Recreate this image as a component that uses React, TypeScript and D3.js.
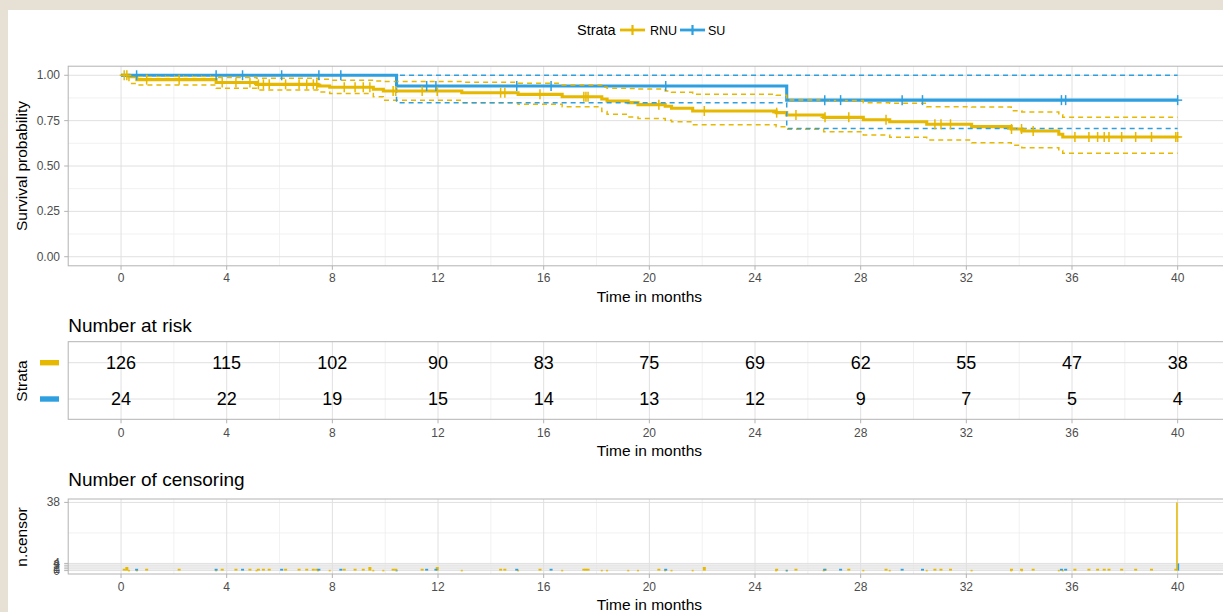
import React from 'react';
import * as d3 from 'd3';

// ---------- data ----------
const strata = ['RNU', 'SU'];
const strataColors = ['#E7B800', '#2E9FDF'];

const xTicks = [0, 4, 8, 12, 16, 20, 24, 28, 32, 36, 40];
const xMinor = [2, 6, 10, 14, 18, 22, 26, 30, 34, 38];
const yTicks = [0, 0.25, 0.5, 0.75, 1];
const yTickLabels = ['0.00', '0.25', '0.50', '0.75', '1.00'];
const yMinor = [0.125, 0.375, 0.625, 0.875];

// RNU Kaplan-Meier steps
const rnuTime = [0, 0.3, 0.6, 3.6, 5.13, 7.46, 7.9, 9.55, 9.93, 12.9, 15.03, 16.7, 18.2, 18.4, 19.2, 19.57, 20.6, 20.84, 21.64, 24.8, 25.2, 26.6, 28.1, 29.1, 30.5, 32.2, 33.7, 34.1, 35.5, 35.65, 40];
const rnuSurv = [1, 0.992, 0.976, 0.96, 0.95, 0.941, 0.934, 0.923, 0.913, 0.904, 0.895, 0.882, 0.869, 0.858, 0.849, 0.838, 0.829, 0.818, 0.803, 0.794, 0.781, 0.768, 0.755, 0.744, 0.73, 0.717, 0.704, 0.693, 0.675, 0.66, 0.66];
const rnuUpper = [1, 0.999, 0.994, 0.988, 0.983, 0.978, 0.973, 0.968, 0.965, 0.962, 0.956, 0.947, 0.934, 0.929, 0.927, 0.924, 0.914, 0.906, 0.895, 0.89, 0.864, 0.861, 0.849, 0.846, 0.827, 0.825, 0.805, 0.798, 0.782, 0.769, 0.769];
const rnuLower = [1, 0.955, 0.947, 0.928, 0.919, 0.908, 0.899, 0.882, 0.862, 0.849, 0.84, 0.827, 0.8, 0.785, 0.77, 0.762, 0.752, 0.744, 0.728, 0.716, 0.702, 0.689, 0.671, 0.658, 0.643, 0.628, 0.615, 0.601, 0.585, 0.57, 0.57];

// SU Kaplan-Meier steps
const suTime = [0, 10.43, 25.2, 40];
const suSurv = [1, 0.941, 0.863, 0.863];
const suUpper = [1, 1, 1, 1];
const suLower = [1, 0.849, 0.706, 0.706];

// censoring times and counts
const rnuCensorTime = [0.12, 0.22, 0.97, 2.2, 3.83, 4.35, 4.88, 5.2, 5.39, 5.61, 6.23, 6.74, 7.03, 7.28, 7.41, 8.45, 8.86, 9.17, 9.42, 10.3, 10.4, 11.4, 11.97, 14.37, 14.53, 15.86, 17.52, 17.6, 17.68, 20.36, 22.08, 24.82, 25.55, 26.65, 27.55, 28.96, 30.81, 31.04, 31.4, 33.71, 34.09, 34.53, 36.11, 36.64, 36.97, 37.22, 37.4, 37.88, 38.41, 39.01, 39.93, 40];
const rnuCensorN = [1, 2, 1, 1, 1, 1, 1, 1, 1, 1, 1, 1, 1, 1, 1, 1, 1, 1, 2, 1, 1, 1, 2, 1, 1, 1, 1, 1, 1, 1, 2, 1, 1, 1, 1, 1, 1, 1, 1, 1, 1, 1, 1, 1, 1, 1, 1, 1, 1, 1, 1, 38];
const suCensorTime = [0.59, 3.6, 4.6, 6.08, 7.49, 8.32, 11.57, 11.92, 14.98, 16.28, 20.62, 26.64, 27.24, 29.57, 30.34, 35.6, 35.76, 40];
const suCensorN = [1, 1, 1, 1, 1, 1, 1, 1, 1, 1, 1, 1, 1, 1, 1, 1, 1, 4];

// number at risk
const riskTimes = [0, 4, 8, 12, 16, 20, 24, 28, 32, 36, 40];
const riskRNU = [126, 115, 102, 90, 83, 75, 69, 62, 55, 47, 38];
const riskSU = [24, 22, 19, 15, 14, 13, 12, 9, 7, 5, 4];

const censorYTicks = [0, 1, 2, 3, 4, 38];
const censorYMinor = [0.5, 1.5, 2.5, 3.5, 21];

// ---------- styling ----------
const FONT = '"Liberation Sans", Arial, Helvetica, sans-serif';
const GRID_MAJOR = '#e0e0e0';
const GRID_MINOR = '#eeeeee';
const BORDER = '#b3b3b3';
const TICK_COL = '#4d4d4d';

type Curve = { time: number[]; surv: number[]; upper: number[]; lower: number[]; cTime: number[]; cN: number[] };
const curves: Curve[] = [
  { time: rnuTime, surv: rnuSurv, upper: rnuUpper, lower: rnuLower, cTime: rnuCensorTime, cN: rnuCensorN },
  { time: suTime, surv: suSurv, upper: suUpper, lower: suLower, cTime: suCensorTime, cN: suCensorN },
];

function stepValue(times: number[], vals: number[], t: number) {
  const i = d3.bisectRight(times, t) - 1;
  return vals[Math.max(0, i)];
}

function Panel(props: {
  x: d3.ScaleLinear<number, number>;
  top: number; bottom: number;
  hMajor: number[]; hMinor: number[];
  left: number; right: number;
}) {
  const { x, top, bottom, hMajor, hMinor, left, right } = props;
  return (
    <g>
      {hMinor.map((y, i) => (
        <line key={'hm' + i} x1={left} x2={right} y1={y} y2={y} stroke={GRID_MINOR} strokeWidth={0.8} />
      ))}
      {xMinor.map((t, i) => (
        <line key={'vm' + i} x1={x(t)} x2={x(t)} y1={top} y2={bottom} stroke={GRID_MINOR} strokeWidth={0.8} />
      ))}
      {hMajor.map((y, i) => (
        <line key={'hM' + i} x1={left} x2={right} y1={y} y2={y} stroke={GRID_MAJOR} strokeWidth={1} />
      ))}
      {xTicks.map((t, i) => (
        <line key={'vM' + i} x1={x(t)} x2={x(t)} y1={top} y2={bottom} stroke={GRID_MAJOR} strokeWidth={1} />
      ))}
      <rect x={left} y={top} width={right - left} height={bottom - top} fill="none" stroke={BORDER} strokeWidth={1} />
      {xTicks.map((t, i) => (
        <line key={'tk' + i} x1={x(t)} x2={x(t)} y1={bottom} y2={bottom + 4} stroke={BORDER} strokeWidth={1} />
      ))}
    </g>
  );
}

function XAxisLabels(props: { x: d3.ScaleLinear<number, number>; y: number; size: number }) {
  return (
    <g>
      {xTicks.map((t, i) => (
        <text key={i} x={props.x(t)} y={props.y} textAnchor="middle" dominantBaseline="central"
          fontSize={props.size} fill={TICK_COL} fontFamily={FONT}>{t}</text>
      ))}
    </g>
  );
}

export default function App() {
  const W = 1223, H = 612;
  const PL = 68.2, PR = 1230.5;
  const x = d3.scaleLinear().domain([-2, 42]).range([PL, PR]);
  const yM = d3.scaleLinear().domain([-0.05, 1.05]).range([265.8, 66.2]);
  const yR = d3.scalePoint<string>().domain(strata).range([362.7, 399]);
  const yC = d3.scaleLinear().domain([-1.9, 39.9]).range([574, 499]);

  const stepLine = (times: number[], vals: number[]) =>
    d3.line<number>().x((_, i) => x(times[i])).y((v) => yM(v)).curve(d3.curveStepAfter)(vals) || '';

  const midX = (PL + PR) / 2;

  // censor bars, dodged when both strata share a time
  const barW = 3;
  const bars: { x: number; w: number; y0: number; y1: number; color: string }[] = [];
  curves.forEach((c, si) => {
    const other = curves[1 - si];
    c.cTime.forEach((t, j) => {
      const shared = other.cTime.includes(t);
      const w = shared ? barW / 2 : barW;
      const cx = shared ? x(t) + (si === 0 ? -w / 2 : w / 2) : x(t);
      bars.push({ x: cx - w / 2, w, y0: yC(0), y1: yC(c.cN[j]), color: strataColors[si] });
    });
  });
  // zero-count bars at event times
  const zeroBars: { x: number; color: string }[] = [];
  curves.forEach((c, si) => {
    c.time.forEach((t, j) => {
      if (j === 0 || j === c.time.length - 1) return;
      zeroBars.push({ x: x(t), color: strataColors[si] });
    });
  });

  return (
    <svg width={W} height={H} style={{ position: 'absolute', left: 0, top: 0 }} fontFamily={FONT}>
      <rect x={0} y={0} width={W} height={H} fill="#e7e1d5" />
      <rect x={8} y={10} width={W - 8} height={H - 10} fill="#ffffff" />

      {/* legend */}
      <g>
        <text x={577} y={30} dominantBaseline="central" fontSize={14.5} fill="#000">Strata</text>
        {strata.map((s, i) => {
          const kx = i === 0 ? 620 : 680;
          return (
            <g key={s}>
              <line x1={kx} x2={kx + 25} y1={30} y2={30} stroke={strataColors[i]} strokeWidth={2.8} />
              <line x1={kx + 12.5} x2={kx + 12.5} y1={25} y2={35} stroke={strataColors[i]} strokeWidth={2.2} />
              <text x={kx + (i === 0 ? 30 : 28)} y={30.5} dominantBaseline="central" fontSize={12.5} fill="#000">{s}</text>
            </g>
          );
        })}
      </g>

      {/* ===== survival plot ===== */}
      <Panel x={x} top={66.2} bottom={265.8} left={PL} right={PR}
        hMajor={yTicks.map((v) => yM(v))} hMinor={yMinor.map((v) => yM(v))} />
      {yTicks.map((v, i) => (
        <g key={'yt' + i}>
          <line x1={PL - 4} x2={PL} y1={yM(v)} y2={yM(v)} stroke={BORDER} />
          <text x={60} y={yM(v)} textAnchor="end" dominantBaseline="central" fontSize={12} fill={TICK_COL}>{yTickLabels[i]}</text>
        </g>
      ))}
      <text transform={`translate(21,166) rotate(-90)`} textAnchor="middle" dominantBaseline="central" fontSize={15.5} fill="#000">Survival probability</text>
      <XAxisLabels x={x} y={278} size={12} />
      <text x={midX} y={296} textAnchor="middle" dominantBaseline="central" fontSize={15.5} fill="#000">Time in months</text>

      {curves.map((c, i) => (
        <path key={'curve' + i} d={stepLine(c.time, c.surv)} fill="none" stroke={strataColors[i]} strokeWidth={3.1} />
      ))}
      {curves.map((c, i) => (
        <g key={'ci' + i}>
          <path d={stepLine(c.time, c.upper)} fill="none" stroke={strataColors[i]} strokeWidth={1.5} strokeDasharray="5,4" />
          <path d={stepLine(c.time, c.lower)} fill="none" stroke={strataColors[i]} strokeWidth={1.5} strokeDasharray="5,4" />
        </g>
      ))}
      {curves.map((c, i) => (
        <g key={'cm' + i}>
          {c.cTime.map((t, j) => {
            const cx = x(t), cy = yM(stepValue(c.time, c.surv, t));
            return (
              <g key={j}>
                <line x1={cx - 4.5} x2={cx + 4.5} y1={cy} y2={cy} stroke={strataColors[i]} strokeWidth={1.5} />
                <line x1={cx} x2={cx} y1={cy - 5} y2={cy + 5} stroke={strataColors[i]} strokeWidth={1.5} />
              </g>
            );
          })}
        </g>
      ))}

      {/* ===== risk table ===== */}
      <text x={PL} y={325} dominantBaseline="central" fontSize={19} fill="#000">Number at risk</text>
      <Panel x={x} top={341.7} bottom={419.3} left={PL} right={PR}
        hMajor={strata.map((s) => yR(s) as number)} hMinor={[]} />
      {strata.map((s, i) => (
        <rect key={'sw' + s} x={40} y={(yR(s) as number) - 2.7} width={19} height={5.4} fill={strataColors[i]} />
      ))}
      <text transform={`translate(21,381) rotate(-90)`} textAnchor="middle" dominantBaseline="central" fontSize={15.5} fill="#000">Strata</text>
      {riskTimes.map((t, i) => (
        <g key={'rk' + i}>
          <text x={x(t)} y={yR('RNU') as number} textAnchor="middle" dominantBaseline="central" fontSize={18} fill="#000">{riskRNU[i]}</text>
          <text x={x(t)} y={yR('SU') as number} textAnchor="middle" dominantBaseline="central" fontSize={18} fill="#000">{riskSU[i]}</text>
        </g>
      ))}
      <XAxisLabels x={x} y={432.7} size={12} />
      <text x={midX} y={450} textAnchor="middle" dominantBaseline="central" fontSize={15.5} fill="#000">Time in months</text>

      {/* ===== censoring plot ===== */}
      <text x={PL} y={479} dominantBaseline="central" fontSize={19} fill="#000">Number of censoring</text>
      <Panel x={x} top={499} bottom={574} left={PL} right={PR}
        hMajor={censorYTicks.map((v) => yC(v))} hMinor={censorYMinor.map((v) => yC(v))} />
      {censorYTicks.map((v, i) => (
        <g key={'cy' + i}>
          <line x1={PL - 4} x2={PL} y1={yC(v)} y2={yC(v)} stroke={BORDER} />
          <text x={60} y={yC(v)} textAnchor="end" dominantBaseline="central" fontSize={12} fill={TICK_COL}>{v}</text>
        </g>
      ))}
      <text transform={`translate(21,537) rotate(-90)`} textAnchor="middle" dominantBaseline="central" fontSize={15.5} fill="#000">n.censor</text>
      {zeroBars.map((b, i) => (
        <rect key={'zb' + i} x={b.x - 1} y={yC(0) - 0.8} width={2} height={1.6} fill={b.color} opacity={0.85} />
      ))}
      {bars.map((b, i) => (
        <rect key={'b' + i} x={b.x} y={b.y1} width={b.w} height={Math.max(0.5, b.y0 - b.y1)} fill={b.color} />
      ))}
      <XAxisLabels x={x} y={587} size={12} />
      <text x={midX} y={604} textAnchor="middle" dominantBaseline="central" fontSize={15.5} fill="#000">Time in months</text>
    </svg>
  );
}
